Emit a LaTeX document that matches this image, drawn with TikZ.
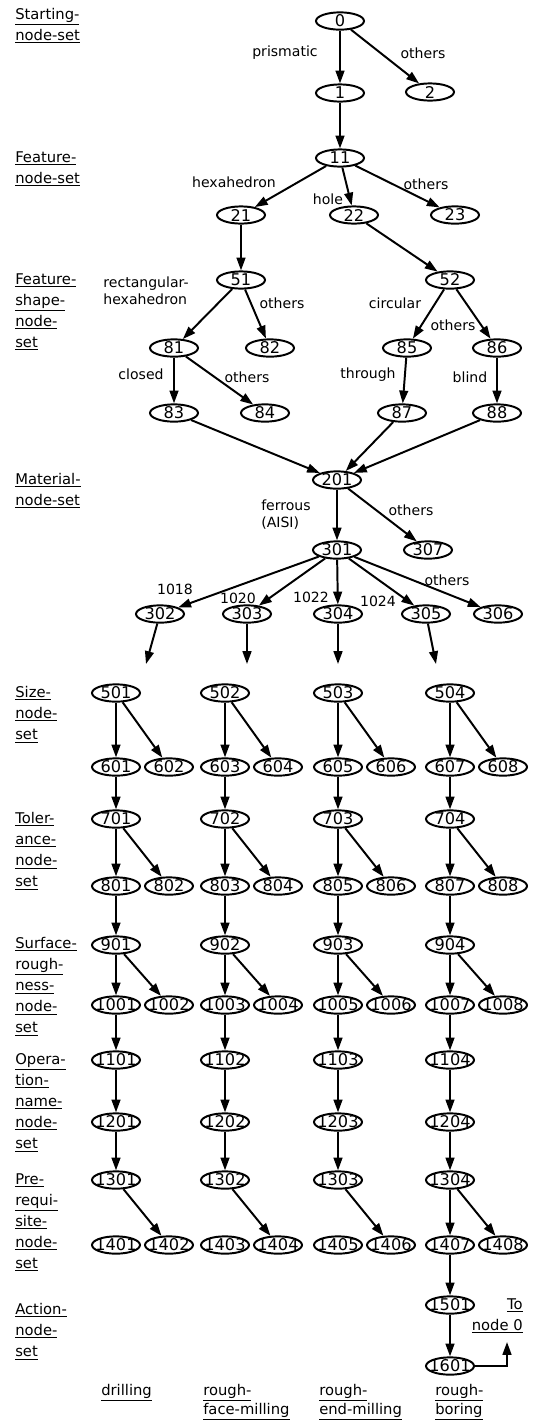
\documentclass[tikz,border=0pt]{standalone}
\usepackage{fontspec}
\setmainfont{DejaVu Sans}
\usetikzlibrary{shapes.geometric, arrows.meta}
\newcommand{\uln}[1]{\underline{#1}}
\tikzset{
  nd/.style={draw, ellipse, line width=1.4pt, minimum width=12mm, minimum height=4.3mm,
    inner sep=0pt, font=\fontsize{11.5}{11.5}\selectfont,
    execute at begin node={\hbox to 0pt\bgroup\hss}, execute at end node={\hss\egroup}},
  arr/.style={line width=1.4pt, -{Triangle[length=3.2mm,width=2.2mm]}},
  lbl/.style={inner sep=0pt, font=\fontsize{10}{12}\selectfont},
  setlbl/.style={anchor=north west, align=left, inner sep=0pt, font=\fontsize{10.5}{15}\selectfont},
  endlbl/.style={anchor=north west, align=left, inner sep=0pt, font=\fontsize{10.5}{13.5}\selectfont}
}
\begin{document}
\begin{tikzpicture}[x=0.25mm, y=-0.25mm]
  \useasboundingbox (0,0) rectangle (539,1421);
  % node sets
  \node[setlbl] (sstart) at (15,8) {\uln{Starting-}\\\uln{node-set}};
  \node[setlbl] (sfeat) at (15,151) {\uln{Feature-}\\\uln{node-set}};
  \node[setlbl] (sshape) at (15,273) {\uln{Feature-}\\\uln{shape-}\\\uln{node-}\\\uln{set}};
  \node[setlbl] (smat) at (15,473) {\uln{Material-}\\\uln{node-set}};
  \node[setlbl] (ssize) at (15,686) {\uln{Size-}\\\uln{node-}\\\uln{set}};
  \node[setlbl] (stol) at (15,812) {\uln{Toler-}\\\uln{ance-}\\\uln{node-}\\\uln{set}};
  \node[setlbl] (ssurf) at (15,937) {\uln{Surface-}\\\uln{rough-}\\\uln{ness-}\\\uln{node-}\\\uln{set}};
  \node[setlbl] (sop) at (15,1053) {\uln{Opera-}\\\uln{tion-}\\\uln{name-}\\\uln{node-}\\\uln{set}};
  \node[setlbl] (spre) at (15,1173) {\uln{Pre-}\\\uln{requi-}\\\uln{site-}\\\uln{node-}\\\uln{set}};
  \node[setlbl] (sact) at (15,1303) {\uln{Action-}\\\uln{node-}\\\uln{set}};
  % tree
  \node[nd] (n0) at (340,21) {0};
  \node[nd] (n1) at (340,93) {1}; \node[nd] (n2) at (430,92) {2};
  \node[nd] (n11) at (340,158) {11};
  \node[nd] (n21) at (241,215) {21}; \node[nd] (n22) at (354,215) {22}; \node[nd] (n23) at (455,215) {23};
  \node[nd] (n51) at (241,280) {51}; \node[nd] (n52) at (450,280) {52};
  \node[nd] (n81) at (174,348) {81}; \node[nd] (n82) at (270,348) {82};
  \node[nd] (n85) at (407,348) {85}; \node[nd] (n86) at (497,348) {86};
  \node[nd] (n83) at (174,413) {83}; \node[nd] (n84) at (265,413) {84};
  \node[nd] (n87) at (402,413) {87}; \node[nd] (n88) at (497,413) {88};
  \node[nd] (n201) at (337,480) {201};
  \node[nd] (n301) at (337,550) {301}; \node[nd] (n307) at (428,550) {307};
  \node[nd] (n302) at (160,614) {302}; \node[nd] (n303) at (247,614) {303};
  \node[nd] (n304) at (338,614) {304}; \node[nd] (n305) at (426,614) {305};
  \node[nd] (n306) at (498,614) {306};
  \coordinate (c302) at (146,664); \coordinate (c303) at (247,664);
  \coordinate (c304) at (338,664); \coordinate (c305) at (436,664);
  \draw[arr] (n0) -- (n1); \draw[arr] (n0) -- (n2);
  \draw[arr] (n1) -- (n11);
  \draw[arr] (n11) -- (n21); \draw[arr] (n11) -- (n22); \draw[arr] (n11) -- (n23);
  \draw[arr] (n21) -- (n51); \draw[arr] (n22) -- (n52);
  \draw[arr] (n51) -- (n81); \draw[arr] (n51) -- (n82);
  \draw[arr] (n52) -- (n85); \draw[arr] (n52) -- (n86);
  \draw[arr] (n81) -- (n83); \draw[arr] (n81) -- (n84);
  \draw[arr] (n85) -- (n87); \draw[arr] (n86) -- (n88);
  \draw[arr] (n83) -- (n201); \draw[arr] (n87) -- (n201); \draw[arr] (n88) -- (n201);
  \draw[arr] (n201) -- (n301); \draw[arr] (n201) -- (n307);
  \draw[arr] (n301) -- (n302); \draw[arr] (n301) -- (n303); \draw[arr] (n301) -- (n304);
  \draw[arr] (n301) -- (n305); \draw[arr] (n301) -- (n306);
  \draw[arr] (n302) -- (c302); \draw[arr] (n303) -- (c303);
  \draw[arr] (n304) -- (c304); \draw[arr] (n305) -- (c305);
  \node[lbl] (lprism) at (285,53) {prismatic}; \node[lbl] (loth1) at (423,53) {others};
  \node[lbl] (lhexa) at (234,182) {hexahedron}; \node[lbl] (lhole) at (328,199) {hole};
  \node[lbl] (loth2) at (426,184) {others};
  \node[lbl, align=left] (lrect) at (146,291) {rectangular-\\hexahedron};
  \node[lbl] (loth3) at (282,303) {others};
  \node[lbl] (lcirc) at (395,303) {circular}; \node[lbl] (loth4) at (453,325) {others};
  \node[lbl] (lclosed) at (141,374) {closed}; \node[lbl] (loth5) at (247,377) {others};
  \node[lbl] (lthru) at (368,375) {through}; \node[lbl] (lblind) at (470,377) {blind};
  \node[lbl, align=left, anchor=west] (lferr) at (261,515) {ferrous\\(AISI)};
  \node[lbl] (loth6) at (411,510) {others};
  \node[lbl] (l1018) at (175,589) {1018}; \node[lbl] (l1020) at (238,598) {1020};
  \node[lbl] (l1022) at (311,597) {1022}; \node[lbl] (l1024) at (378,601) {1024};
  \node[lbl] (loth7) at (447,580) {others};
  % drilling
  \begin{scope}
    \node[nd] (n501) at (116,693) {501};
    \node[nd] (n601) at (116,767) {601}; \node[nd] (n602) at (169,767) {602};
    \node[nd] (n701) at (116,819) {701};
    \node[nd] (n801) at (116,886) {801}; \node[nd] (n802) at (169,886) {802};
    \node[nd] (n901) at (116,945) {901};
    \node[nd] (n1001) at (116,1005) {1001}; \node[nd] (n1002) at (169,1005) {1002};
    \node[nd] (n1101) at (116,1060) {1101};
    \node[nd] (n1201) at (116,1122) {1201};
    \node[nd] (n1301) at (116,1180) {1301};
    \node[nd] (n1401) at (116,1245) {1401}; \node[nd] (n1402) at (169,1245) {1402};
    \draw[arr] (n501) -- (n601); \draw[arr] (n501) -- (n602); \draw[arr] (n601) -- (n701);
    \draw[arr] (n701) -- (n801); \draw[arr] (n701) -- (n802); \draw[arr] (n801) -- (n901);
    \draw[arr] (n901) -- (n1001); \draw[arr] (n901) -- (n1002); \draw[arr] (n1001) -- (n1101);
    \draw[arr] (n1101) -- (n1201); \draw[arr] (n1201) -- (n1301); \draw[arr] (n1301) -- (n1402);
    \node[endlbl] (ldrill) at (101,1384) {\uln{drilling}};
  \end{scope}
  % rough face milling
  \begin{scope}[xshift=27.25mm]
    \node[nd] (n502) at (116,693) {502};
    \node[nd] (n603) at (116,767) {603}; \node[nd] (n604) at (169,767) {604};
    \node[nd] (n702) at (116,819) {702};
    \node[nd] (n803) at (116,886) {803}; \node[nd] (n804) at (169,886) {804};
    \node[nd] (n902) at (116,945) {902};
    \node[nd] (n1003) at (116,1005) {1003}; \node[nd] (n1004) at (169,1005) {1004};
    \node[nd] (n1102) at (116,1060) {1102};
    \node[nd] (n1202) at (116,1122) {1202};
    \node[nd] (n1302) at (116,1180) {1302};
    \node[nd] (n1403) at (116,1245) {1403}; \node[nd] (n1404) at (169,1245) {1404};
    \draw[arr] (n502) -- (n603); \draw[arr] (n502) -- (n604); \draw[arr] (n603) -- (n702);
    \draw[arr] (n702) -- (n803); \draw[arr] (n702) -- (n804); \draw[arr] (n803) -- (n902);
    \draw[arr] (n902) -- (n1003); \draw[arr] (n902) -- (n1004); \draw[arr] (n1003) -- (n1102);
    \draw[arr] (n1102) -- (n1202); \draw[arr] (n1202) -- (n1302); \draw[arr] (n1302) -- (n1404);
    \node[endlbl] (lface) at (94,1384) {\uln{rough-}\\\uln{face-milling}};
  \end{scope}
  % rough end milling
  \begin{scope}[xshift=55.5mm]
    \node[nd] (n503) at (116,693) {503};
    \node[nd] (n605) at (116,767) {605}; \node[nd] (n606) at (169,767) {606};
    \node[nd] (n703) at (116,819) {703};
    \node[nd] (n805) at (116,886) {805}; \node[nd] (n806) at (169,886) {806};
    \node[nd] (n903) at (116,945) {903};
    \node[nd] (n1005) at (116,1005) {1005}; \node[nd] (n1006) at (169,1005) {1006};
    \node[nd] (n1103) at (116,1060) {1103};
    \node[nd] (n1203) at (116,1122) {1203};
    \node[nd] (n1303) at (116,1180) {1303};
    \node[nd] (n1405) at (116,1245) {1405}; \node[nd] (n1406) at (169,1245) {1406};
    \draw[arr] (n503) -- (n605); \draw[arr] (n503) -- (n606); \draw[arr] (n605) -- (n703);
    \draw[arr] (n703) -- (n805); \draw[arr] (n703) -- (n806); \draw[arr] (n805) -- (n903);
    \draw[arr] (n903) -- (n1005); \draw[arr] (n903) -- (n1006); \draw[arr] (n1005) -- (n1103);
    \draw[arr] (n1103) -- (n1203); \draw[arr] (n1203) -- (n1303); \draw[arr] (n1303) -- (n1406);
    \node[endlbl] (lend) at (97,1384) {\uln{rough-}\\\uln{end-milling}};
  \end{scope}
  % rough boring
  \begin{scope}[xshift=83.5mm]
    \node[nd] (n504) at (116,693) {504};
    \node[nd] (n607) at (116,767) {607}; \node[nd] (n608) at (169,767) {608};
    \node[nd] (n704) at (116,819) {704};
    \node[nd] (n807) at (116,886) {807}; \node[nd] (n808) at (169,886) {808};
    \node[nd] (n904) at (116,945) {904};
    \node[nd] (n1007) at (116,1005) {1007}; \node[nd] (n1008) at (169,1005) {1008};
    \node[nd] (n1104) at (116,1060) {1104};
    \node[nd] (n1204) at (116,1122) {1204};
    \node[nd] (n1304) at (116,1180) {1304};
    \node[nd] (n1407) at (116,1245) {1407}; \node[nd] (n1408) at (169,1245) {1408};
    \node[nd] (n1501) at (116,1305) {1501};
    \node[nd] (n1601) at (116,1366) {1601};
    \coordinate (tonode) at (173,1342);
    \draw[arr] (n504) -- (n607); \draw[arr] (n504) -- (n608); \draw[arr] (n607) -- (n704);
    \draw[arr] (n704) -- (n807); \draw[arr] (n704) -- (n808); \draw[arr] (n807) -- (n904);
    \draw[arr] (n904) -- (n1007); \draw[arr] (n904) -- (n1008); \draw[arr] (n1007) -- (n1104);
    \draw[arr] (n1104) -- (n1204); \draw[arr] (n1204) -- (n1304);
    \draw[arr] (n1304) -- (n1407); \draw[arr] (n1304) -- (n1408);
    \draw[arr] (n1407) -- (n1501); \draw[arr] (n1501) -- (n1601);
    \draw[arr] (n1601.east) -| (tonode);
    \node[setlbl, anchor=north east, align=right] (lto) at (189,1298) {\uln{To}\\\uln{node 0}};
    \node[endlbl] (lbore) at (101,1384) {\uln{rough-}\\\uln{boring}};
  \end{scope}
\end{tikzpicture}
\end{document}
